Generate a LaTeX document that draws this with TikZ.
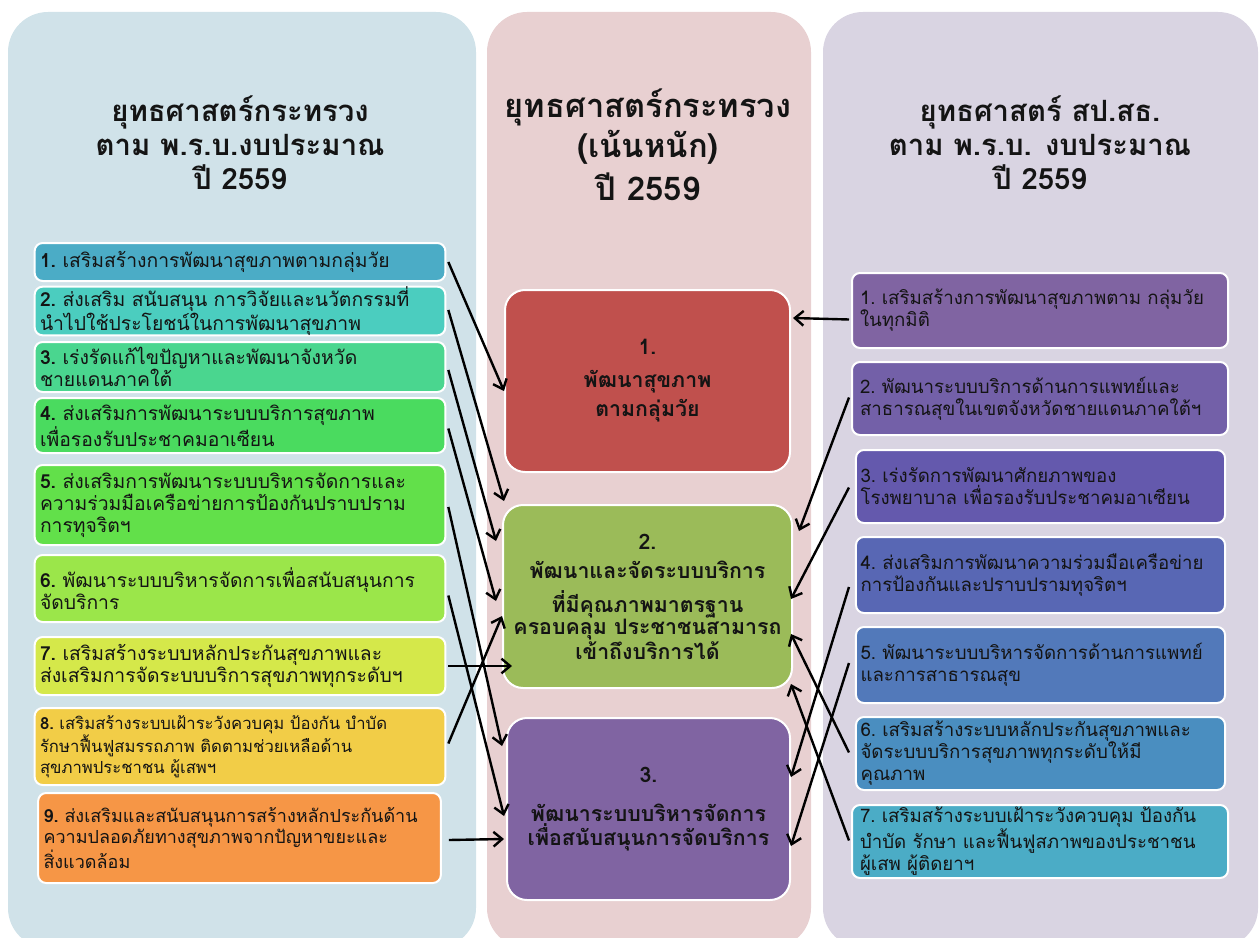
\documentclass[tikz,border=0pt]{standalone}
\usepackage{fontspec}
\newfontfamily\thaifont[Script=Thai]{Loma}
\usetikzlibrary{arrows.meta,calc}
\definecolor{leftbg}{HTML}{D0E2E9}
\definecolor{midbg}{HTML}{E8D0D1}
\definecolor{rightbg}{HTML}{D9D4E2}
\definecolor{lc1}{HTML}{4BACC6}
\definecolor{lc2}{HTML}{4BCDBF}
\definecolor{lc3}{HTML}{4AD68F}
\definecolor{lc4}{HTML}{4ADB5F}
\definecolor{lc5}{HTML}{62E04A}
\definecolor{lc6}{HTML}{9BE64A}
\definecolor{lc7}{HTML}{D5E84A}
\definecolor{lc8}{HTML}{F2CD47}
\definecolor{lc9}{HTML}{F69646}
\definecolor{mc1}{HTML}{C0504D}
\definecolor{mc2}{HTML}{9BBB59}
\definecolor{mc3}{HTML}{8064A2}
\definecolor{rc1}{HTML}{8064A2}
\definecolor{rc2}{HTML}{7360A8}
\definecolor{rc3}{HTML}{6459AD}
\definecolor{rc4}{HTML}{5867B4}
\definecolor{rc5}{HTML}{5279BA}
\definecolor{rc6}{HTML}{4A8EC0}
\definecolor{rc7}{HTML}{4BACC6}
\definecolor{ink}{HTML}{141414}
\begin{document}
\begin{tikzpicture}[x=0.75pt,y=-0.75pt,
  panel/.style={rounded corners=30pt, draw=none},
  titletext/.style={align=center, text=ink, inner sep=0pt},
  lbox/.style={draw=white, line width=1.5pt, rounded corners=6pt, text width=300pt,
    inner xsep=4pt, inner ysep=0pt, align=left, text=ink,
    font=\thaifont\fontsize{14.5pt}{16.5pt}\selectfont},
  mbox/.style={draw=white, line width=1.5pt, rounded corners=15pt, inner sep=0pt,
    align=center, text=ink, font=\thaifont\bfseries\fontsize{16pt}{16.5pt}\selectfont},
  rbox/.style={draw=white, line width=1.5pt, rounded corners=6pt, text width=270pt,
    inner xsep=6pt, inner ysep=0pt, align=left, text=ink,
    font=\thaifont\fontsize{14pt}{16.5pt}\selectfont},
  conn/.style={draw=black, line width=1.8pt, -{Straight Barb[length=6.5pt,width=11pt]}}
]
\clip (0,0) rectangle (1259,938);
% panels
\fill[panel, leftbg] (8,12) rectangle (476,948);
\fill[panel, midbg] (487,12) rectangle (811,948);
\fill[panel, rightbg] (823,12) rectangle (1258,948);

% titles
\node[titletext, font=\thaifont\bfseries\fontsize{22pt}{25.5pt}\selectfont] (TL) at (240,143)
  {ยุทธศาสตร์กระทรวง\\ตาม พ.ร.บ.งบประมาณ\\ปี 2559};
\node[titletext, font=\thaifont\bfseries\fontsize{24.5pt}{30pt}\selectfont] (TM) at (648,145)
  {ยุทธศาสตร์กระทรวง\\(เน้นหนัก)\\[2.25pt]ปี 2559};
\node[titletext, font=\thaifont\bfseries\fontsize{22pt}{25.5pt}\selectfont] (TR) at (1040,143)
  {ยุทธศาสตร์ สป.สธ.\\ตาม พ.ร.บ. งบประมาณ\\ปี 2559};

% left boxes
\node[lbox, fill=lc1, minimum height=28.5pt] (L1) at (240,262)
  {\textbf{1.}~เสริมสร้างการพัฒนาสุขภาพตามกลุ่มวัย};
\node[lbox, fill=lc2, minimum height=36pt] (L2) at (240,311)
  {\textbf{2.}~ส่งเสริม~สนับสนุน~การวิจัยและนวัตกรรมที่\\นำไปใช้ประโยชน์ในการพัฒนาสุขภาพ};
\node[lbox, fill=lc3, minimum height=37.5pt] (L3) at (240,367)
  {\textbf{3.}~เร่งรัดแก้ไขปัญหาและพัฒนาจังหวัด\\ชายแดนภาคใต้};
\node[lbox, fill=lc4, minimum height=41.25pt] (L4) at (240,425.5)
  {\textbf{4.}~ส่งเสริมการพัฒนาระบบบริการสุขภาพ\\เพื่อรองรับประชาคมอาเซียน};
\node[lbox, fill=lc5, minimum height=60pt] (L5) at (240,505)
  {\textbf{5.}~ส่งเสริมการพัฒนาระบบบริหารจัดการและ\\ความร่วมมือเครือข่ายการป้องกันปราบปราม\\การทุจริตฯ};
\node[lbox, fill=lc6, minimum height=50.25pt] (L6) at (240,588.5)
  {\textbf{6.}~พัฒนาระบบบริหารจัดการเพื่อสนับสนุนการ\\จัดบริการ};
\node[lbox, fill=lc7, minimum height=43.5pt] (L7) at (240,666)
  {\textbf{7.}~เสริมสร้างระบบหลักประกันสุขภาพและ\\ส่งเสริมการจัดระบบบริการสุขภาพทุกระดับฯ};
\node[lbox, fill=lc8, minimum height=57.75pt, font=\thaifont\fontsize{12.5pt}{15.5pt}\selectfont] (L8) at (240,746.5)
  {\textbf{8.}~เสริมสร้างระบบเฝ้าระวังควบคุม~ป้องกัน~บำบัด\\รักษาฟื้นฟูสมรรถภาพ~ติดตามช่วยเหลือด้าน\\สุขภาพประชาชน~ผู้เสพฯ};
\node[lbox, fill=lc9, minimum height=67.5pt, text width=294pt, font=\thaifont\fontsize{13.5pt}{15.5pt}\selectfont] (L9) at (239.5,838)
  {\textbf{9.}~ส่งเสริมและสนับสนุนการสร้างหลักประกันด้าน\\ความปลอดภัยทางสุขภาพจากปัญหาขยะและ\\สิ่งแวดล้อม};

% middle boxes
\node[mbox, fill=mc1, minimum width=213.75pt, minimum height=136.5pt] (M1) at (647.5,381)
  {1.\\[8.25pt]พัฒนาสุขภาพ\\[3.75pt]ตามกลุ่มวัย};
\node[mbox, fill=mc2, minimum width=216.75pt, minimum height=137.25pt] (M2) at (647.5,596.5)
  {2.\\[5.25pt]พัฒนาและจัดระบบบริการ\\[8.25pt]ที่มีคุณภาพมาตรฐาน\\ครอบคลุม ประชาชนสามารถ\\เข้าถึงบริการได้};
\node[mbox, fill=mc3, minimum width=212.25pt, minimum height=136.5pt] (M3) at (648.5,809)
  {3.\\[12.75pt]พัฒนาระบบบริหารจัดการ\\[0.75pt]เพื่อสนับสนุนการจัดบริการ};

% right boxes
\node[rbox, fill=rc1, minimum height=56.25pt] (R1) at (1040,310.5)
  {1.~เสริมสร้างการพัฒนาสุขภาพตาม~กลุ่มวัย\\ในทุกมิติ};
\node[rbox, fill=rc2, minimum height=54.75pt] (R2) at (1040,398.5)
  {2.~พัฒนาระบบบริการด้านการแพทย์และ\\สาธารณสุขในเขตจังหวัดชายแดนภาคใต้ฯ};
\node[rbox, fill=rc3, minimum height=54.75pt, text width=270pt, inner xsep=3.4pt] (R3) at (1040.5,486.5)
  {3.~เร่งรัดการพัฒนาศักยภาพของ\\โรงพยาบาล~เพื่อรองรับประชาคมอาเซียน};
\node[rbox, fill=rc4, minimum height=57pt, text width=270pt, inner xsep=3.4pt] (R4) at (1040.5,575)
  {4.~ส่งเสริมการพัฒนาความร่วมมือเครือข่าย\\การป้องกันและปราบปรามทุจริตฯ};
\node[rbox, fill=rc5, minimum height=57pt, text width=270pt, inner xsep=3.4pt] (R5) at (1040.5,665)
  {5.~พัฒนาระบบบริหารจัดการด้านการแพทย์\\และการสาธารณสุข};
\node[rbox, fill=rc6, minimum height=54.75pt, text width=270pt, inner xsep=3.4pt] (R6) at (1040.5,753.5)
  {6.~เสริมสร้างระบบหลักประกันสุขภาพและ\\จัดระบบบริการสุขภาพทุกระดับให้มี\\คุณภาพ};
\node[rbox, fill=rc7, minimum height=54.75pt] (R7) at (1040,841.5)
  {7.~เสริมสร้างระบบเฝ้าระวังควบคุม~ป้องกัน\\บำบัด~รักษา~และฟื้นฟูสภาพของประชาชน\\ผู้เสพ~ผู้ติดยาฯ};

% left connectors
\draw[conn] ($(L1.east)+(2,0)$) -- ($(M1.north west)+(0,102)$);
\draw[conn] ($(L2.east)+(2,-1)$) -- ($(M2.north west)+(2,-3)$);
\draw[conn] ($(L3.east)+(2,3)$) -- ($(M2.north west)+(-6,37)$);
\draw[conn] ($(L4.east)+(2,3)$) -- ($(M2.north west)+(-6,97)$);
\draw[conn] ($(L5.east)+(2,2)$) -- ($(M3.north west)+(-4,29)$);
\draw[conn] ($(L6.east)+(2,7)$) -- ($(M3.north west)+(-2,99)$);
\draw[conn] ($(L7.east)+(2,0)$) -- ($(M2.south west)+(10,-23)$);
\draw[conn] ($(L8.east)+(2,-3)$) -- ($(M2.north west)+(0,112)$);
\draw[conn] ($(L9.east)+(7,2)$) -- ($(M3.north west)+(-2,122)$);

% right connectors
\draw[conn] ($(R1.west)+(-2,9)$) -- ($(M1.north east)+(2,29)$);
\draw[conn] ($(R2.west)+(-2,-1)$) -- ($(M2.north east)+(6,27)$);
\draw[conn] ($(R3.west)+(-6,1)$) -- ($(M2.north east)+(-2,95)$);
\draw[conn] ($(R4.west)+(-6,12)$) -- ($(M3.north east)+(0,60)$);
\draw[conn] ($(R5.west)+(-6,-2)$) -- ($(M3.north east)+(0,129)$);
\draw[conn] ($(R6.west)+(-6,-1)$) -- ($(M2.north east)+(-2,130)$);
\draw[conn] ($(R7.west)+(-2,-1)$) -- ($(M2.south east)+(-2,-5)$);
\end{tikzpicture}
\end{document}
